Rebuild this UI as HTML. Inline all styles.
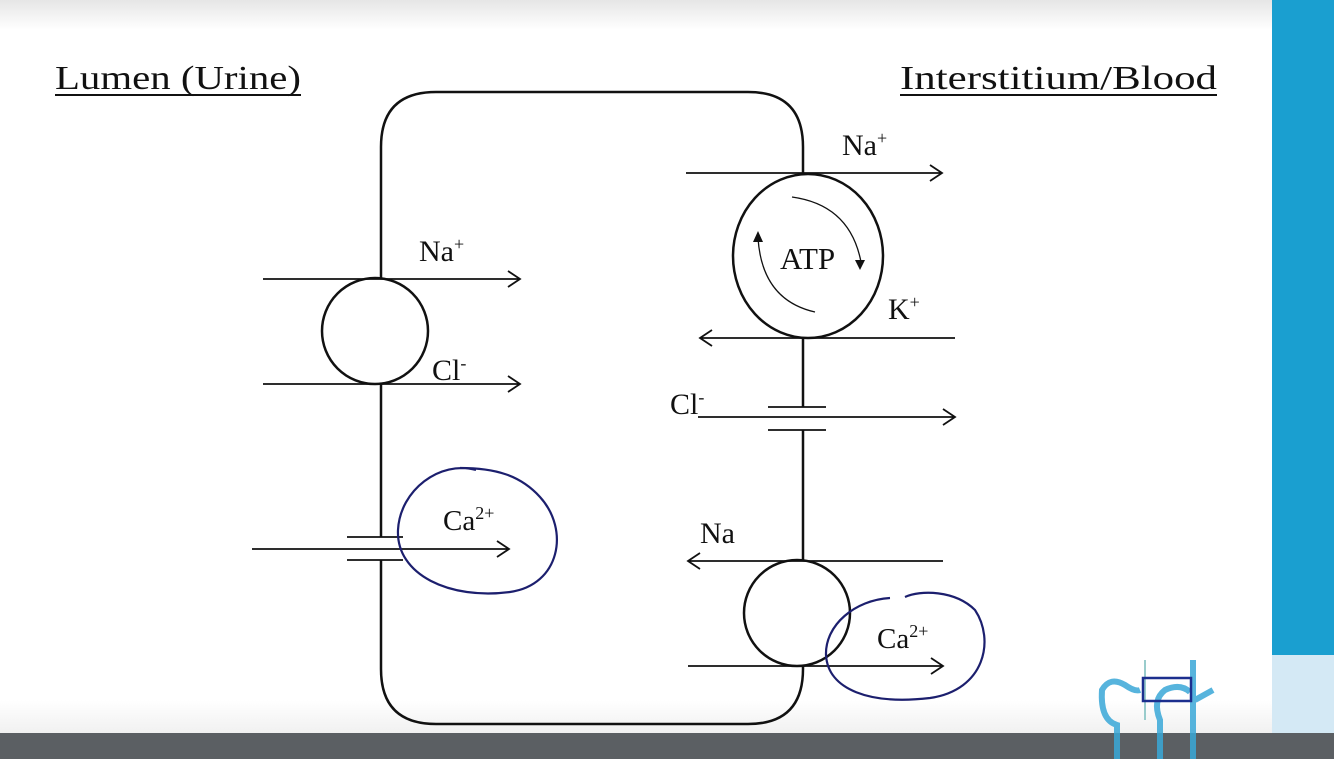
<!DOCTYPE html>
<html><head><style>
html,body{margin:0;padding:0;width:1334px;height:759px;overflow:hidden;background:#fff}
svg{display:block}
text{font-family:"Liberation Serif",serif;fill:#111}
</style></head><body>
<svg width="1334" height="759" viewBox="0 0 1334 759" xmlns="http://www.w3.org/2000/svg">
<defs>
<linearGradient id="tg" x1="0" y1="0" x2="0" y2="1">
<stop offset="0" stop-color="#e6e6e6"/><stop offset="1" stop-color="#ffffff"/></linearGradient>
<linearGradient id="bg" x1="0" y1="0" x2="0" y2="1">
<stop offset="0" stop-color="#ffffff"/><stop offset="1" stop-color="#f0f0f0"/></linearGradient>
</defs>
<rect x="0" y="0" width="1334" height="30" fill="url(#tg)"/>
<rect x="0" y="700" width="1272" height="35" fill="url(#bg)"/>
<rect x="1272" y="0" width="62" height="655" fill="#1a9fd0"/>
<rect x="1272" y="655" width="62" height="80" fill="#d4e9f5"/>
<rect x="0" y="733" width="1334" height="26" fill="#5b5f63"/>

<g fill="none" stroke="#111" stroke-width="2.5">
<path d="M381 279 V147 Q381 92 436 92 H748 Q803 92 803 147 V174"/>
<path d="M381 384 V537"/>
<path d="M381 560 V669 Q381 724 436 724 H748 Q803 724 803 669 V666"/>
<path d="M803 338 V407"/>
<path d="M803 430 V560"/>
<circle cx="375" cy="331" r="53"/>
<ellipse cx="808" cy="256" rx="75" ry="82"/>
<circle cx="797" cy="613" r="53"/>
</g>
<g stroke="#111" stroke-width="1.8" fill="none">
<line x1="347" y1="537" x2="403" y2="537"/><line x1="347" y1="560" x2="403" y2="560"/>
<line x1="768" y1="407" x2="826" y2="407"/><line x1="768" y1="430" x2="826" y2="430"/>
<path d="M263 279 H520 M508 271 L520 279 L508 287"/>
<path d="M263 384 H520 M508 376 L520 384 L508 392"/>
<path d="M252 549 H509 M497 541 L509 549 L497 557"/>
<path d="M686 173 H942 M930 165 L942 173 L930 181"/>
<path d="M955 338 H700 M712 330 L700 338 L712 346"/>
<path d="M698 417 H955 M943 409 L955 417 L943 425"/>
<path d="M943 561 H688 M700 553 L688 561 L700 569"/>
<path d="M688 666 H943 M931 658 L943 666 L931 674"/>
<path stroke-width="1.3" d="M792 197 Q850 205 861 262"/>
<path stroke-width="1.3" d="M815 312 Q762 300 758 238"/>
</g>
<polygon points="855,260 865,260 860,270" fill="#111"/>
<polygon points="753,242 763,242 758,231" fill="#111"/>
<g fill="none" stroke="#1c1f6e" stroke-width="2.2">
<path d="M476 470 C440 460 400 490 398 530 C396 575 450 600 510 592 C560 585 570 530 540 497 C520 475 495 468 460 468"/>
<path d="M890 598 C855 600 825 625 826 655 C828 690 870 705 930 698 C985 690 995 640 975 610 C955 590 920 590 905 597"/>
</g>
<text x="55" y="89" font-size="34" textLength="246" lengthAdjust="spacingAndGlyphs">Lumen (Urine)</text>
<line x1="55" y1="95" x2="301" y2="95" stroke="#111" stroke-width="2"/>
<text x="900" y="89" font-size="34" textLength="317" lengthAdjust="spacingAndGlyphs">Interstitium/Blood</text>
<line x1="900" y1="95" x2="1217" y2="95" stroke="#111" stroke-width="2"/>
<text x="419" y="261" font-size="30">Na<tspan font-size="18" dy="-11">+</tspan></text>
<text x="432" y="380" font-size="30">Cl<tspan font-size="18" dy="-11">-</tspan></text>
<text x="443" y="530" font-size="29">Ca<tspan font-size="18" dy="-11">2+</tspan></text>
<text x="842" y="155" font-size="30">Na<tspan font-size="18" dy="-11">+</tspan></text>
<text x="780" y="269" font-size="31">ATP</text>
<text x="888" y="319" font-size="30">K<tspan font-size="18" dy="-11">+</tspan></text>
<text x="670" y="414" font-size="30">Cl<tspan font-size="18" dy="-11">-</tspan></text>
<text x="700" y="543" font-size="30">Na</text>
<text x="877" y="648" font-size="29">Ca<tspan font-size="18" dy="-11">2+</tspan></text>
<g fill="none" stroke="#3aa8d8" stroke-width="6" opacity="0.85">
<path d="M1117 759 V725 Q1100 720 1102 690 Q1110 676 1125 685 Q1135 692 1140 690"/>
<path d="M1160 759 V720 Q1152 700 1165 690 Q1180 683 1190 692"/>
<path d="M1193 759 V660 M1195 700 L1213 690"/>
</g>
<line x1="1145" y1="660" x2="1145" y2="720" stroke="#9cc" stroke-width="2"/>
<rect x="1143" y="678" width="48" height="23" fill="none" stroke="#1c2f8e" stroke-width="2.5"/>
</svg>
</body></html>
